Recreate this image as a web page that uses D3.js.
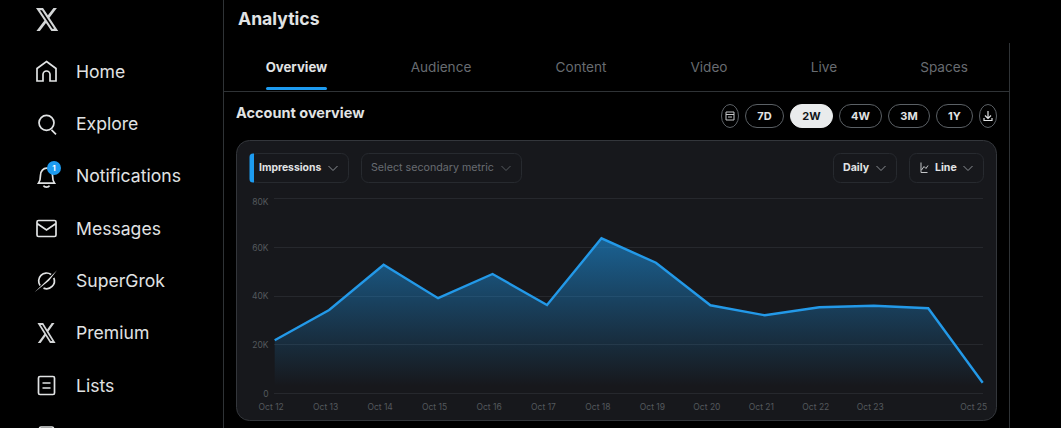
<!DOCTYPE html>
<html>
<head>
<meta charset="utf-8">
<script src="https://cdn.jsdelivr.net/npm/d3@7"></script>
<style>
  html, body { margin: 0; padding: 0; background: #000; overflow: hidden; }
  svg { display: block; font-family: Inter, "Noto Sans", sans-serif; }
  .axis .domain, .axis line { display: none; }
</style>
</head>
<body>
<svg id="chart" width="1061" height="428"></svg>
<script>
// chart data
const dates = ["Oct 12", "Oct 13", "Oct 14", "Oct 15", "Oct 16", "Oct 17", "Oct 18", "Oct 19", "Oct 20", "Oct 21", "Oct 22", "Oct 23", "Oct 24", "Oct 25"];
const impressions = [22000, 34400, 52900, 39200, 49100, 36400, 63700, 53700, 36300, 32200, 35500, 36100, 35100, 4600];
const dateTicks = ["Oct 12", "Oct 13", "Oct 14", "Oct 15", "Oct 16", "Oct 17", "Oct 18", "Oct 19", "Oct 20", "Oct 21", "Oct 22", "Oct 23", "Oct 25"];
const valueTicks = [0, 20000, 40000, 60000, 80000];
const valueTickLabels = ["0", "20K", "40K", "60K", "80K"];

// page text
const navLabels = ["Home", "Explore", "Notifications", "Messages", "SuperGrok", "Premium", "Lists"];
const tabLabels = ["Overview", "Audience", "Content", "Video", "Live", "Spaces"];
const rangeLabels = ["7D", "2W", "4W", "3M", "1Y"];

const BLUE = "#1d9bf0";
const RULE = "#2f3336";
const MUTED = "#686c71";
const TEXT = "#e1e3e4";
const X_LOGO = "M18.244 2.25h3.308l-7.227 8.26 8.502 11.24H16.17l-5.214-6.817L4.99 21.75H1.68l7.73-8.835L1.254 2.25H8.08l4.713 6.231zm-1.161 17.52h1.833L7.084 4.126H5.117z";

const svg = d3.select("#chart");
const defs = svg.append("defs");

// little helpers
function label(parent, str, x, y, size, weight, fill, anchor) {
  return parent.append("text").text(str)
    .attr("x", x).attr("y", y)
    .attr("dy", "0.35em")
    .attr("font-size", size)
    .attr("font-weight", weight)
    .attr("fill", fill)
    .attr("text-anchor", anchor || "start");
}
function chevron(cx, cy, color) {
  svg.append("path")
    .attr("d", `M${cx - 4.5},${cy - 2}L${cx},${cy + 2.5}L${cx + 4.5},${cy - 2}`)
    .attr("fill", "none").attr("stroke", color).attr("stroke-width", 1);
}
function rule(x1, y1, x2, y2) {
  svg.append("line").attr("x1", x1).attr("y1", y1).attr("x2", x2).attr("y2", y2)
    .attr("stroke", RULE).attr("stroke-width", 1);
}

// ---- frame lines
rule(223.5, 0, 223.5, 428);
rule(224, 91.5, 1009, 91.5);
rule(1009.5, 43, 1009.5, 428);

// ---- left nav
svg.append("path").attr("d", X_LOGO).attr("fill", "#d4d6d7")
  .attr("transform", "translate(34.7,5.3) scale(1.03,1.18)");

const navY = d3.scalePoint().domain(navLabels).range([71.5, 385.5]);
const ICON = { fill: "none", stroke: "#e1e3e4", "stroke-width": 1.7 };
const navIcons = {
  Home: g => g.append("path").attr("d", "M0,-10L9.5,-3V9.5H3.5V3a3.5,3.5 0 0 0 -7,0V9.5H-9.5V-3Z"),
  Explore: g => g.append("path").attr("d", "M7.5,-1a7.5,7.5 0 1 1 -15,0a7.5,7.5 0 1 1 15,0M5,6L9.5,10.5"),
  Notifications: g => g.append("path").attr("d", "M-8,7C-6,4 -6,2 -6,-1C-6,-5 -3,-8 0,-8C3,-8 6,-5 6,-1C6,2 6,4 8,7ZM-3,9.5C-2,11.5 2,11.5 3,9.5"),
  Messages: g => g.append("path").attr("d", "M-8,-8H8a1.5,1.5 0 0 1 1.5,1.5V6.5A1.5,1.5 0 0 1 8,8H-8A1.5,1.5 0 0 1 -9.5,6.5V-6.5A1.5,1.5 0 0 1 -8,-8ZM-9.5,-5L0,1.5L9.5,-5"),
  SuperGrok: g => {
    // ring broken only where the slash crosses it
    g.append("path").attr("d", "M4.6,-6.4A7.9,7.9 0 0 0 -6.4,4.6M-3,7.3A7.9,7.9 0 0 0 7.3,-3");
    g.append("path").attr("d", "M-12,11.5L1,-1L10.5,-10.5L2.5,-0.2Z").attr("fill", "#e1e3e4").attr("stroke", "none");
  },
  Premium: g => g.append("path").attr("d", X_LOGO)
    .attr("transform", "translate(-10.1,-12.5) scale(0.84,1.03)")
    .attr("fill", "#d4d6d7").attr("stroke", "none"),
  Lists: g => g.append("path").attr("d", "M-6.5,-9H6.5a1.5,1.5 0 0 1 1.5,1.5V7.5A1.5,1.5 0 0 1 6.5,9H-6.5A1.5,1.5 0 0 1 -8,7.5V-7.5A1.5,1.5 0 0 1 -6.5,-9ZM-4,-2.5H4M-4,2.5H4")
};
navLabels.forEach(name => {
  const y = navY(name);
  const g = svg.append("g").attr("transform", `translate(46.5,${y})`);
  Object.entries(ICON).forEach(([k, v]) => g.attr(k, v));
  navIcons[name](g);
  label(svg, name, 76, y, 17.6, 400, TEXT);
});
// notification badge
svg.append("circle").attr("cx", 54).attr("cy", 168).attr("r", 7).attr("fill", BLUE);
label(svg, "1", 54, 168, 8, 700, "#fff", "middle");
// top of the next nav item, cut off by the window
svg.append("rect").attr("x", 39.5).attr("y", 427).attr("width", 14).attr("height", 12).attr("rx", 1.5)
  .attr("fill", "none").attr("stroke", "#e1e3e4").attr("stroke-width", 1.7);

// ---- header and tabs
label(svg, "Analytics", 238, 19, 17.6, 700, TEXT);
const tabCenters = [296.5, 441, 581, 709, 824, 944];
tabLabels.forEach((t, i) => {
  label(svg, t, tabCenters[i], 67, i === 0 ? 13.2 : 13.6, i === 0 ? 700 : 400, i === 0 ? TEXT : MUTED, "middle");
});
svg.append("rect").attr("x", 266).attr("y", 87).attr("width", 61).attr("height", 3).attr("rx", 1.5).attr("fill", BLUE);

label(svg, "Account overview", 236, 113, 14.5, 700, TEXT);

// ---- range buttons
const rangeEdges = [[745, 784], [790, 833], [839, 882], [888, 930], [936, 973]];
function pill(x0, x1, fill, stroke) {
  svg.append("rect").attr("x", x0 + 0.5).attr("y", 104.5)
    .attr("width", x1 - x0 - 1).attr("height", 23).attr("rx", 11.5)
    .attr("fill", fill).attr("stroke", stroke);
}
rangeLabels.forEach((r, i) => {
  const [x0, x1] = rangeEdges[i];
  const active = r === "2W";
  pill(x0, x1, active ? "#e9ebec" : "#000", active ? "#e9ebec" : "#5b6065");
  label(svg, r, (x0 + x1) / 2, 116, 11, 700, active ? "#0f1419" : TEXT, "middle");
});
pill(721, 739, "#000", "#5b6065");
pill(979, 997, "#000", "#5b6065");
svg.append("path").attr("d", "M726,112H734V120H726ZM726,114.5H734M728,117H732")
  .attr("fill", "none").attr("stroke", "#c4c6c8").attr("stroke-width", 1);
svg.append("path").attr("d", "M988,111V118M985,115.5L988,118.5L991,115.5M984,118V120.5H992V118")
  .attr("fill", "none").attr("stroke", TEXT).attr("stroke-width", 1.2);

// ---- card
svg.append("rect").attr("x", 236.5).attr("y", 140.5).attr("width", 760).attr("height", 280).attr("rx", 13)
  .attr("fill", "#17181c").attr("stroke", "#33363b");

// ---- dropdowns
function dropdown(x0, x1) {
  svg.append("rect").attr("x", x0 + 0.5).attr("y", 153.5).attr("width", x1 - x0 - 1).attr("height", 29).attr("rx", 7)
    .attr("fill", "#17181c").attr("stroke", "#272a2f");
}
dropdown(250, 349);
svg.append("path").attr("d", "M254,153.5H253a3.5,3.5 0 0 0 -3.5,3.5V179a3.5,3.5 0 0 0 3.5,3.5H254Z").attr("fill", BLUE);
label(svg, "Impressions", 259, 167.5, 10.4, 700, TEXT);
chevron(333, 168, "#8b8f94");
dropdown(361, 522);
label(svg, "Select secondary metric", 371, 167.5, 10.7, 400, MUTED);
chevron(506, 168, "#565a5f");
dropdown(833, 897);
label(svg, "Daily", 843, 167.5, 10.6, 700, TEXT);
chevron(881, 168, "#8b8f94");
dropdown(909, 984);
svg.append("path").attr("d", "M921,162.5V172.5H927.5M921.5,170L924,166.5L926,168.5L928,165.5")
  .attr("fill", "none").attr("stroke", "#c4c6c8").attr("stroke-width", 1);
label(svg, "Line", 935, 167.5, 10.6, 700, TEXT);
chevron(968, 168, "#8b8f94");

// ---- the chart itself
const x = d3.scalePoint().domain(dates).range([274.7, 982.7]);
const y = d3.scaleLinear().domain([0, 80000]).range([394, 198.5]);
const series = dates.map((d, i) => ({ date: d, value: impressions[i] }));

const grad = defs.append("linearGradient").attr("id", "areaFill")
  .attr("gradientUnits", "userSpaceOnUse")
  .attr("x1", 0).attr("x2", 0)
  .attr("y1", y(d3.max(impressions))).attr("y2", y(0));
grad.append("stop").attr("offset", 0).attr("stop-color", BLUE).attr("stop-opacity", 0.56);
grad.append("stop").attr("offset", 0.6).attr("stop-color", BLUE).attr("stop-opacity", 0.2);
grad.append("stop").attr("offset", 0.95).attr("stop-color", BLUE).attr("stop-opacity", 0);

// gridlines
svg.append("g").selectAll("line").data(valueTicks).join("line")
  .attr("x1", 274).attr("x2", 983)
  .attr("y1", d => Math.floor(y(d) - 0.2) + 0.5).attr("y2", d => Math.floor(y(d) - 0.2) + 0.5)
  .attr("stroke", "#26282d");

svg.append("path").datum(series)
  .attr("d", d3.area().x(d => x(d.date)).y0(y(0)).y1(d => y(d.value)))
  .attr("fill", "url(#areaFill)");
svg.append("path").datum(series)
  .attr("d", d3.line().x(d => x(d.date)).y(d => y(d.value)))
  .attr("fill", "none").attr("stroke", "#2399e8").attr("stroke-width", 2.4);

// axes
const yAxis = svg.append("g").attr("class", "axis").attr("transform", "translate(268.5,0)")
  .call(d3.axisLeft(y).tickValues(valueTicks).tickSize(0).tickPadding(0)
    .tickFormat((d, i) => valueTickLabels[i]));
yAxis.attr("font-family", null);
yAxis.selectAll("text").attr("fill", "#54585d").attr("font-size", 8.5);
// the top label sits under its gridline so it stays inside the plot
yAxis.selectAll("text").filter(d => d === 80000).attr("dy", "0.65em");

const xAxis = svg.append("g").attr("class", "axis").attr("transform", "translate(-4,403.5)")
  .call(d3.axisBottom(x).tickValues(dateTicks).tickSize(0).tickPadding(0));
xAxis.attr("font-family", null);
xAxis.selectAll("text").attr("fill", "#54585d").attr("font-size", 8.5);
xAxis.selectAll("text").filter(d => d === "Oct 25").attr("text-anchor", "end").attr("dx", 8);
</script>
</body>
</html>
